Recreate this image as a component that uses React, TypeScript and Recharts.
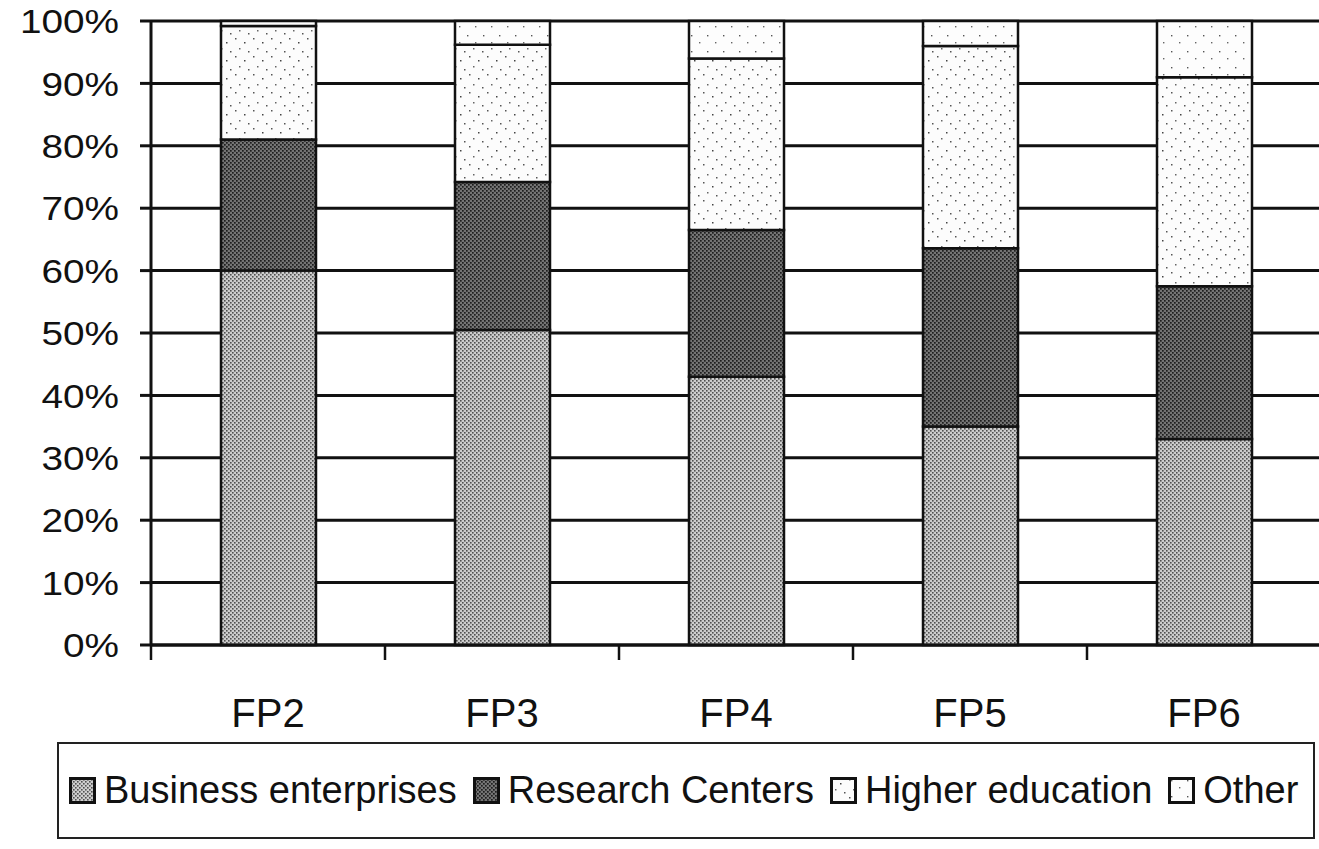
import { BarChart, Bar, XAxis, YAxis, CartesianGrid } from 'recharts';

const categories = ['FP2', 'FP3', 'FP4', 'FP5', 'FP6'];
const business = [60, 50.5, 43, 35, 33];
const research = [21, 23.7, 23.5, 28.6, 24.5];
const higherEd = [18.2, 22, 27.5, 32.4, 33.5];
const other = [0.8, 3.8, 6, 4, 9];
const yTicks = [0, 10, 20, 30, 40, 50, 60, 70, 80, 90, 100];

const seriesNames = ['Business enterprises', 'Research Centers', 'Higher education', 'Other'];
const patternIds = ['pBiz', 'pRes', 'pHigh', 'pOther'];

const data = categories.map((c, i) => ({
  name: c,
  business: business[i],
  research: research[i],
  higherEd: higherEd[i],
  other: other[i],
}));

const FONT = '"Liberation Sans", Arial, sans-serif';
const INK = '#111';
const BAND = 234;

const YTick = ({ x, y, payload }: any) => (
  <g transform={`translate(${x},${y})`}>
    <text x={0} y={0} dy="0.36em" textAnchor="end" fontSize={34} fontFamily={FONT} fill={INK} transform="scale(1.14,1)">
      {payload.value}%
    </text>
  </g>
);

const XTick = ({ x, y, payload }: any) => (
  <g>
    <line x1={x - BAND / 2} x2={x - BAND / 2} y1={y - 10} y2={y + 5} stroke={INK} strokeWidth={2.5} />
    <text x={x} y={y + 72} textAnchor="middle" fontSize={40} fontFamily={FONT} fill={INK}>
      {payload.value}
    </text>
  </g>
);

function Patterns() {
  return (
    <defs>
      <pattern id="pBiz" width={4} height={4} patternUnits="userSpaceOnUse">
        <rect width={4} height={4} fill="#cdcdcd" />
        <rect x={0} y={0} width={1.6} height={1.6} fill="#505050" />
        <rect x={2} y={2} width={1.6} height={1.6} fill="#505050" />
      </pattern>
      <pattern id="pRes" width={4} height={4} patternUnits="userSpaceOnUse">
        <rect width={4} height={4} fill="#747474" />
        <rect x={0} y={0} width={1.7} height={1.7} fill="#1e1e1e" />
        <rect x={2} y={2} width={1.7} height={1.7} fill="#1e1e1e" />
      </pattern>
      <pattern id="pHigh" width={18} height={18} patternUnits="userSpaceOnUse">
        <rect width={18} height={18} fill="#fcfcfc" />
        <rect x={1} y={2} width={1.5} height={1.5} fill="#555" />
        <rect x={10} y={6} width={1.5} height={1.5} fill="#444" />
        <rect x={5} y={12} width={1.5} height={1.5} fill="#666" />
        <rect x={14} y={15} width={1.5} height={1.5} fill="#555" />
      </pattern>
      <pattern id="pOther" width={16} height={16} patternUnits="userSpaceOnUse">
        <rect width={16} height={16} fill="#fdfdfd" />
        <rect x={3} y={3} width={1.4} height={1.4} fill="#555" />
        <rect x={11} y={10} width={1.4} height={1.4} fill="#666" />
      </pattern>
    </defs>
  );
}

function LegendBox() {
  return (
    <div
      style={{
        position: 'absolute', left: 57, top: 742, width: 1258, height: 97,
        border: '2px solid #222', boxSizing: 'border-box',
        display: 'flex', alignItems: 'center', paddingLeft: 10,
        fontFamily: FONT, fontSize: 38, color: INK, whiteSpace: 'nowrap',
      }}
    >
      {seriesNames.map((n, i) => (
        <div key={n} style={{ display: 'flex', alignItems: 'center', marginRight: i < 3 ? 16 : 0 }}>
          <svg width={27} height={27} style={{ marginRight: 8 }}>
            <rect x={1.5} y={1.5} width={24} height={24} fill={`url(#${patternIds[i]})`} stroke="#111" strokeWidth={3} />
          </svg>
          <span>{n}</span>
        </div>
      ))}
    </div>
  );
}

export default function App() {
  return (
    <div style={{ position: 'absolute', left: 0, top: 0, width: 1319, height: 849, overflow: 'hidden', background: '#fff' }}>
      <BarChart
        width={1330}
        height={849}
        data={data}
        margin={{ top: 21, right: 9, left: 0, bottom: 144 }}
        barSize={95}
      >
        <Patterns />
        <CartesianGrid horizontal vertical={false} stroke="#111" strokeWidth={3} />
        <XAxis
          dataKey="name"
          height={60}
          tickSize={10}
          tickMargin={0}
          tickLine={false}
          axisLine={{ stroke: '#111', strokeWidth: 3 }}
          tick={<XTick />}
        />
        <YAxis
          width={151}
          domain={[0, 100]}
          ticks={yTicks}
          interval={0}
          tickSize={11}
          tickMargin={21}
          tickLine={{ stroke: '#111', strokeWidth: 3 }}
          axisLine={{ stroke: '#111', strokeWidth: 3 }}
          tick={<YTick />}
        />
        <Bar dataKey="business" stackId="a" fill="url(#pBiz)" stroke="#111" strokeWidth={2.5} isAnimationActive={false} />
        <Bar dataKey="research" stackId="a" fill="url(#pRes)" stroke="#111" strokeWidth={2.5} isAnimationActive={false} />
        <Bar dataKey="higherEd" stackId="a" fill="url(#pHigh)" stroke="#111" strokeWidth={2.5} isAnimationActive={false} />
        <Bar dataKey="other" stackId="a" fill="url(#pOther)" stroke="#111" strokeWidth={2.5} isAnimationActive={false} />
      </BarChart>
      <LegendBox />
    </div>
  );
}
